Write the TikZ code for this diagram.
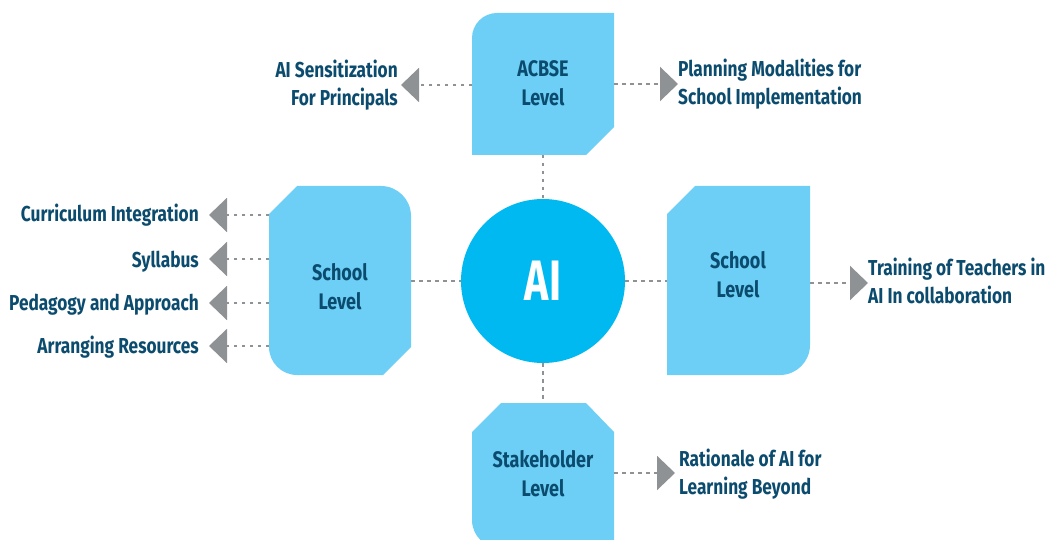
\documentclass[tikz,border=0pt]{standalone}
\usepackage{fontspec}
\setmainfont{Fira Sans}[FakeStretch=0.8]
\newfontfamily\aifont{Fira Sans}[FakeStretch=0.72]
\usetikzlibrary{arrows.meta}
\definecolor{boxcol}{HTML}{6DCFF6}
\definecolor{aicol}{HTML}{00B9F1}
\definecolor{txtcol}{HTML}{0B4B6E}
\definecolor{graycol}{HTML}{8F9294}
\tikzset{
  boxshape/.style={fill=boxcol, draw=none},
  boxtext/.style={text=txtcol, font=\bfseries\fontsize{22.5}{29}\selectfont, align=center, inner sep=0pt},
  lab/.style={text=txtcol, font=\bfseries\fontsize{21.6}{28}\selectfont, inner sep=0pt},
  dotline/.style={draw=graycol, line width=2.2pt, dash pattern=on 3.5pt off 4.5pt},
  arr/.style={dotline, -{Triangle[width=34pt,length=18pt]}}
}
\begin{document}
\begin{tikzpicture}[x=1pt,y=-1pt]
\useasboundingbox (0,0) rectangle (1046,540);
\clip (0,0) rectangle (1046,540);
% boxes
\fill[boxshape] (472,155) -- (472,38) arc[start angle=180,end angle=270,radius=25] -- (614,13) -- (614,127) -- (586,155) -- cycle;
\fill[boxshape] (269,214) -- (297,186) -- (381,186) arc[start angle=270,end angle=360,radius=30] -- (411,347) -- (383,375) -- (297,375) arc[start angle=90,end angle=180,radius=28] -- cycle;
\fill[boxshape] (667,214) -- (695,186) -- (810,186) -- (810,345) arc[start angle=0,end angle=90,radius=30] -- (667,375) -- cycle;
\fill[boxshape] (472,432) -- (501,403) -- (586,403) -- (614,432) -- (614,548) -- (500,548) arc[start angle=90,end angle=180,radius=28] -- cycle;
% edge coordinates
\coordinate (acbseS) at (543,155);
\coordinate (acbseW) at (472,85);
\coordinate (acbseE) at (614,84);
\coordinate (lboxE) at (411,281);
\coordinate (lbox1) at (269,215);
\coordinate (lbox2) at (269,259);
\coordinate (lbox3) at (269,303);
\coordinate (lbox4) at (269,346);
\coordinate (rboxW) at (667,281);
\coordinate (rboxE) at (810,283);
\coordinate (stakeN) at (543,403);
\coordinate (stakeE) at (614,473);
% box texts
\node[boxtext] (acbse) at (543,83) {ACBSE\\Level};
\node[boxtext] (lschool) at (340,287) {School\\Level};
\node[boxtext] (rschool) at (738,275) {School\\Level};
\node[boxtext] (stake) at (543,474) {Stakeholder\\Level};
% circle
\node[circle, fill=aicol, minimum size=164pt, inner sep=0pt, text=white, font=\aifont\bfseries\fontsize{57}{57}\selectfont] (ai) at (543,281) {AI};
% labels
\node[lab, anchor=east, align=right] (sens) at (398,85) {AI Sensitization\\For Principals};
\node[lab, anchor=west, align=left] (plan) at (678,84) {Planning Modalities for\\School Implementation};
\node[lab, anchor=west, align=left] (train) at (868,281) {Training of Teachers in\\AI In collaboration};
\node[lab, anchor=west, align=left] (rat) at (679,474) {Rationale of AI for\\Learning Beyond};
\node[lab, anchor=base east] (cur) at (199,222) {Curriculum Integration};
\node[lab, anchor=base east] (syl) at (199,267) {Syllabus};
\node[lab, anchor=base east] (ped) at (199,310) {Pedagogy and Approach};
\node[lab, anchor=base east] (arrg) at (199,353) {Arranging Resources};
% connectors
\draw[dotline] (acbseS) -- (ai.north);
\draw[dotline] (lboxE) -- (ai.west);
\draw[dotline] (ai.east) -- (rboxW);
\draw[dotline] (ai.south) -- (stakeN);
\draw[arr, shorten >=3pt] (acbseW) -- (acbseW -| sens.east);
\draw[arr] (acbseE) -- (acbseE -| plan.west);
\draw[arr] (rboxE) -- (rboxE -| train.west);
\draw[arr, shorten >=4pt] (stakeE) -- (stakeE -| rat.west);
\draw[arr, shorten >=10pt] (lbox1) -- (lbox1 -| cur.east);
\draw[arr, shorten >=10pt] (lbox2) -- (lbox2 -| syl.east);
\draw[arr, shorten >=10pt] (lbox3) -- (lbox3 -| ped.east);
\draw[arr, shorten >=10pt] (lbox4) -- (lbox4 -| arrg.east);
\end{tikzpicture}
\end{document}
